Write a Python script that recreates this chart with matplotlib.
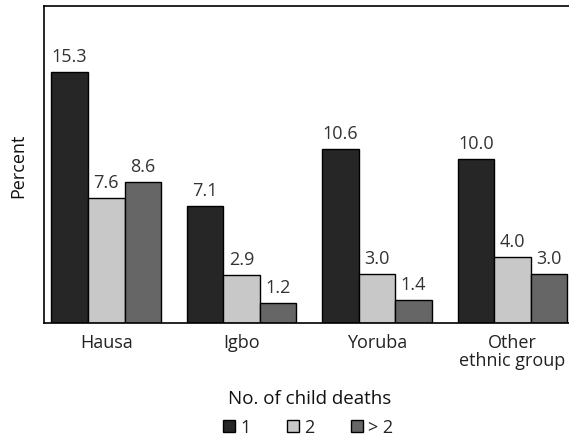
import matplotlib
matplotlib.use("Agg")
import matplotlib.pyplot as plt
import numpy as np

plt.rcParams['font.family'] = ['Open Sans', 'DejaVu Sans']

groups = ['Hausa', 'Igbo', 'Yoruba', 'Other\nethnic group']
series_names = ['1', '2', '> 2']
deaths_1 = [15.3, 7.1, 10.6, 10.0]
deaths_2 = [7.6, 2.9, 3.0, 4.0]
deaths_3 = [8.6, 1.2, 1.4, 3.0]
colors = ['#262626', '#c8c8c8', '#666666']

fig = plt.figure(figsize=(5.69, 4.39), dpi=100)
ax = fig.add_axes([44 / 569, 1 - 324 / 439, (580 - 44) / 569, (324 - 7) / 439])

x = np.arange(len(groups))
w = 0.27
for i, (vals, name) in enumerate(zip([deaths_1, deaths_2, deaths_3], series_names)):
    pos = x + (i - 1) * w
    bars = ax.bar(pos, vals, w, color=colors[i], edgecolor='black', linewidth=1, label=name)
    for b, v in zip(bars, vals):
        ax.annotate(f'{v:.1f}', (b.get_x() + b.get_width() / 2, v),
                    xytext=(0, 5), textcoords='offset points',
                    ha='center', va='bottom', fontsize=13, color='#333333')

ax.set_xlim(-0.46, 3.5)
ax.set_ylim(0, 19.3)
ax.set_yticks([])
ax.set_xticks(x)
ax.set_xticklabels(groups, fontsize=13, color='#222222', linespacing=1.0)
ax.tick_params(axis='x', length=0, pad=7)
ax.spines['right'].set_visible(False)
for s in ['left', 'top', 'bottom']:
    ax.spines[s].set_linewidth(1.2)

ax.set_ylabel('Percent', fontsize=13, color='#111111')
ax.yaxis.set_label_coords(-26 / (580 - 44), 0.5)
ax.yaxis.label.set_va('center')
ax.set_xlabel('No. of child deaths', fontsize=13.5, color='#111111')
ax.xaxis.set_label_coords((310 - 44) / (580 - 44), -(399 - 324) / 317)
ax.xaxis.label.set_va('center')

ax.legend(loc='center', bbox_to_anchor=(308 / 569, 1 - 428 / 439), bbox_transform=fig.transFigure,
          ncol=3, frameon=False, fontsize=13, handlelength=0.67, handleheight=0.67,
          handletextpad=0.3, columnspacing=2.0, borderpad=0, labelcolor='#222222')

fig.savefig('out.png', dpi=100)
